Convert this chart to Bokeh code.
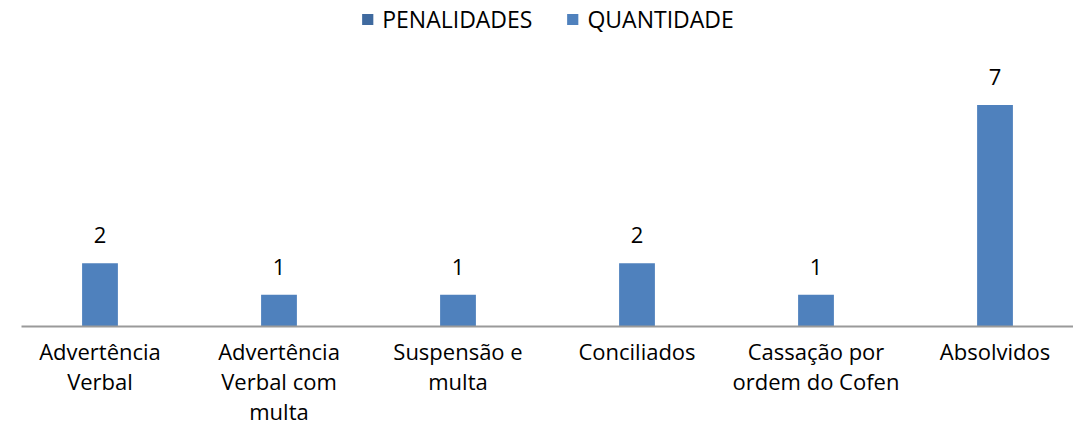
from bokeh.plotting import figure
from bokeh.models import ColumnDataSource, FactorRange, Range1d, Legend, LegendItem, LabelSet
from bokeh.core.properties import value
from bokeh.embed import file_html
from bokeh.resources import INLINE

categories = ["Advertência\nVerbal", "Advertência\nVerbal com\nmulta", "Suspensão e\nmulta",
              "Conciliados", "Cassação por\nordem do Cofen", "Absolvidos"]
quantidade = [2, 1, 1, 2, 1, 7]
penalidades = [0, 0, 0, 0, 0, 0]
labels = [str(v) for v in quantidade]

FONT = "Open Sans"
FS = "22px"
src = ColumnDataSource(dict(x=categories, top=quantidade, label=labels))
src_pen = ColumnDataSource(dict(x=categories, top=penalidades))

p = figure(width=1073, height=428,
           x_range=FactorRange(*categories, range_padding=-0.0615, range_padding_units="absolute"),
           y_range=Range1d(0, 10.3), output_backend="svg", toolbar_location=None,
           min_border_left=21, min_border_right=0, min_border_bottom=100, min_border_top=0)
p.outline_line_color = None
p.grid.grid_line_color = None
p.yaxis.visible = False
p.background_fill_color = "white"

pen = p.vbar(x="x", top="top", source=src_pen, width=0.2, fill_color="#3F6A9F", line_color=None)
q = p.vbar(x="x", top="top", source=src, width=0.2, fill_color="#4F81BD", line_color=None)

p.add_layout(LabelSet(x="x", y="top", text="label", source=src, text_align="center",
                      text_baseline="bottom", y_offset=20, text_font=value(FONT),
                      text_font_size=FS, text_color="#000000"))

xa = p.xaxis[0]
xa.axis_line_color = "#9a9a9a"
xa.axis_line_width = 2
xa.major_tick_line_color = None
xa.minor_tick_line_color = None
xa.major_label_standoff = 3
xa.major_label_text_font = FONT
xa.major_label_text_font_size = FS
xa.major_label_text_line_height = 1.0
xa.major_label_text_color = "#000000"

leg = Legend(items=[LegendItem(label="PENALIDADES", renderers=[pen]),
                    LegendItem(label="QUANTIDADE", renderers=[q])],
             orientation="horizontal", location="top_center",
             label_text_font=FONT, label_text_font_size="23px", label_text_color="#000000",
             glyph_width=14, glyph_height=14, spacing=33, padding=0, margin=3,
             border_line_color=None, background_fill_alpha=0, label_standoff=8)
p.add_layout(leg)

open("out.html", "w").write(file_html(p, INLINE))
